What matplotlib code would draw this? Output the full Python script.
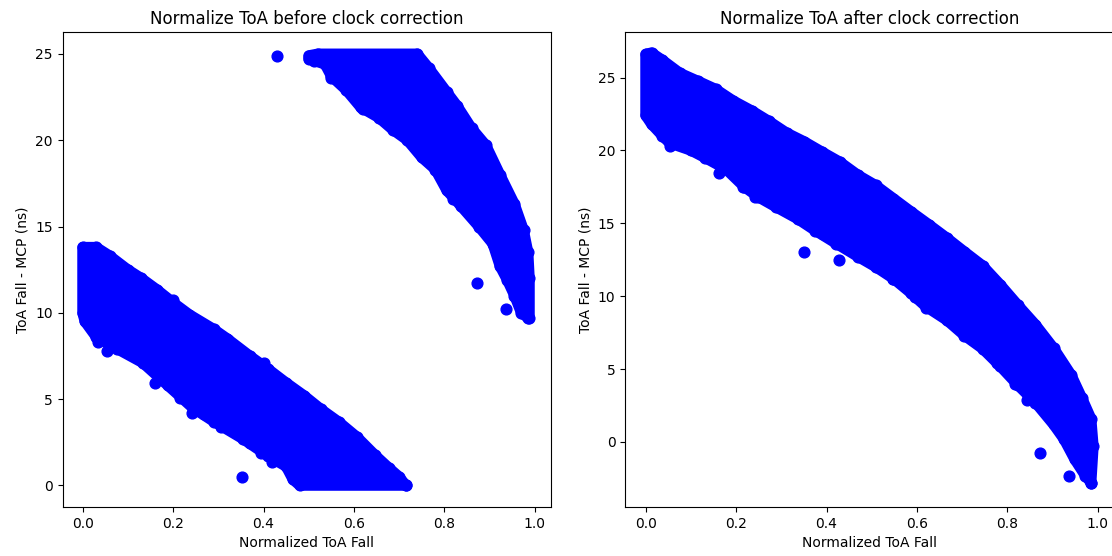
import matplotlib
matplotlib.use("Agg")
import matplotlib.pyplot as plt

# --- before clock correction: lower band (outline) ---
before_low_top_x = [0.0, 0.03, 0.06, 0.10, 0.13, 0.164, 0.20, 0.236, 0.29, 0.32, 0.37, 0.41,
                    0.45, 0.49, 0.528, 0.568, 0.607, 0.647, 0.678, 0.70, 0.715]
before_low_top_y = [13.8, 13.8, 13.3, 12.5, 12.0, 11.35, 10.6, 9.9, 9.05, 8.5, 7.5, 6.75,
                    5.95, 5.2, 4.4, 3.65, 2.8, 1.75, 1.0, 0.5, 0.0]
before_low_bot_x = [0.715, 0.48, 0.465, 0.45, 0.41, 0.354, 0.29, 0.243, 0.188, 0.133,
                    0.077, 0.03, 0.005, 0.0]
before_low_bot_y = [0.0, 0.0, 0.35, 1.1, 1.7, 2.7, 3.7, 4.5, 5.8, 7.1, 7.9, 8.6, 9.5, 10.0]

# --- before clock correction: upper band ---
before_up_top_x = [0.50, 0.52, 0.74, 0.765, 0.805, 0.828, 0.86, 0.892, 0.923, 0.955, 0.975,
                   0.985, 0.988, 0.988]
before_up_top_y = [24.9, 25.0, 25.0, 24.2, 22.8, 22.0, 20.7, 19.7, 18.0, 16.3, 14.8, 13.5,
                   12.0, 9.7]
before_up_bot_x = [0.985, 0.97, 0.955, 0.939, 0.923, 0.907, 0.876, 0.836, 0.805, 0.78, 0.75,
                   0.718, 0.686, 0.655, 0.615, 0.583, 0.55, 0.536, 0.512, 0.50]
before_up_bot_y = [9.7, 10.0, 11.0, 11.9, 12.7, 14.0, 15.0, 16.2, 17.1, 18.3, 19.0, 20.0,
                   20.6, 21.3, 21.9, 22.9, 23.7, 24.4, 24.6, 24.7]

# stray points along the band edges and the isolated ones
before_edge_x = [0.035, 0.055, 0.215, 0.242, 0.269, 0.307, 0.37, 0.394, 0.418,
                 0.20, 0.322, 0.40, 0.55, 0.62, 0.82]
before_edge_y = [8.3, 7.8, 5.05, 4.22, 4.14, 3.41, 2.45, 1.87, 1.38,
                 10.75, 8.45, 7.1, 23.6, 21.8, 16.6]
before_out_x = [0.43, 0.161, 0.352, 0.873, 0.937]
before_out_y = [24.9, 5.92, 0.51, 11.7, 10.2]

# --- after clock correction: single band ---
after_top_x = [0.0, 0.013, 0.037, 0.076, 0.116, 0.155, 0.194, 0.236, 0.273, 0.312, 0.351,
               0.39, 0.43, 0.47, 0.509, 0.548, 0.587, 0.627, 0.666, 0.705, 0.745, 0.784,
               0.823, 0.862, 0.902, 0.941, 0.965, 0.985, 0.99, 0.985]
after_top_y = [26.6, 26.7, 26.2, 25.3, 24.75, 24.2, 23.4, 22.7, 22.0, 21.2, 20.6, 19.9,
               19.2, 18.3, 17.6, 16.7, 15.8, 14.9, 14.0, 13.05, 12.1, 10.8, 9.4, 8.05,
               6.45, 4.6, 3.0, 1.6, -0.3, -2.8]
after_bot_x = [0.985, 0.972, 0.949, 0.925, 0.902, 0.862, 0.823, 0.784, 0.745, 0.705, 0.666,
               0.619, 0.587, 0.548, 0.509, 0.47, 0.422, 0.375, 0.336, 0.289, 0.249, 0.218,
               0.178, 0.131, 0.10, 0.053, 0.037, 0.013, 0.0]
after_bot_y = [-2.8, -2.3, -1.2, 0.2, 1.2, 2.7, 3.9, 5.2, 6.4, 7.3, 8.35, 9.3, 10.2, 11.2,
               12.0, 12.7, 13.6, 14.5, 15.3, 16.1, 16.8, 17.5, 18.7, 19.5, 20.0, 20.5, 21.0,
               21.8, 22.4]

after_edge_x = [0.054, 0.216, 0.242, 0.268, 0.308, 0.371, 0.392, 0.419, 0.548, 0.596,
                0.62, 0.699, 0.725, 0.777, 0.817, 0.843]
after_edge_y = [20.3, 17.5, 16.8, 16.6, 15.92, 14.8, 14.25, 13.75, 11.16, 9.97,
                9.17, 7.68, 6.99, 5.39, 4.0, 2.87]
after_out_x = [0.162, 0.351, 0.428, 0.871, 0.937]
after_out_y = [18.45, 13.0, 12.5, -0.76, -2.3]


def draw_band(ax, top_x, top_y, bot_x, bot_y):
    xs = top_x + bot_x
    ys = top_y + bot_y
    ax.fill(xs, ys, facecolor="blue", edgecolor="blue", linewidth=7.7, joinstyle="round")
    ax.scatter(xs, ys, s=60, color="blue")


fig = plt.figure(figsize=(11.12, 5.56), dpi=100)
ax1 = fig.add_axes([0.0564, 0.0881, 0.4388, 0.8538])
ax2 = fig.add_axes([0.5623, 0.0881, 0.4388, 0.8538])

draw_band(ax1, before_low_top_x, before_low_top_y, before_low_bot_x, before_low_bot_y)
draw_band(ax1, before_up_top_x, before_up_top_y, before_up_bot_x, before_up_bot_y)
ax1.scatter(before_edge_x, before_edge_y, s=60, color="blue")
ax1.scatter(before_out_x, before_out_y, s=60, color="blue")
ax1.set_xlim(-0.044, 1.035)
ax1.set_ylim(-1.25, 26.25)
ax1.set_title("Normalize ToA before clock correction")
ax1.set_xlabel("Normalized ToA Fall")
ax1.set_ylabel("ToA Fall - MCP (ns)")

draw_band(ax2, after_top_x, after_top_y, after_bot_x, after_bot_y)
ax2.scatter(after_edge_x, after_edge_y, s=60, color="blue")
ax2.scatter(after_out_x, after_out_y, s=60, color="blue")
ax2.set_xlim(-0.045, 1.034)
ax2.set_ylim(-4.46, 28.1)
ax2.set_yticks([0, 5, 10, 15, 20, 25])
ax2.set_title("Normalize ToA after clock correction")
ax2.set_xlabel("Normalized ToA Fall")
ax2.set_ylabel("ToA Fall - MCP (ns)")

fig.savefig("out.png", dpi=100)
